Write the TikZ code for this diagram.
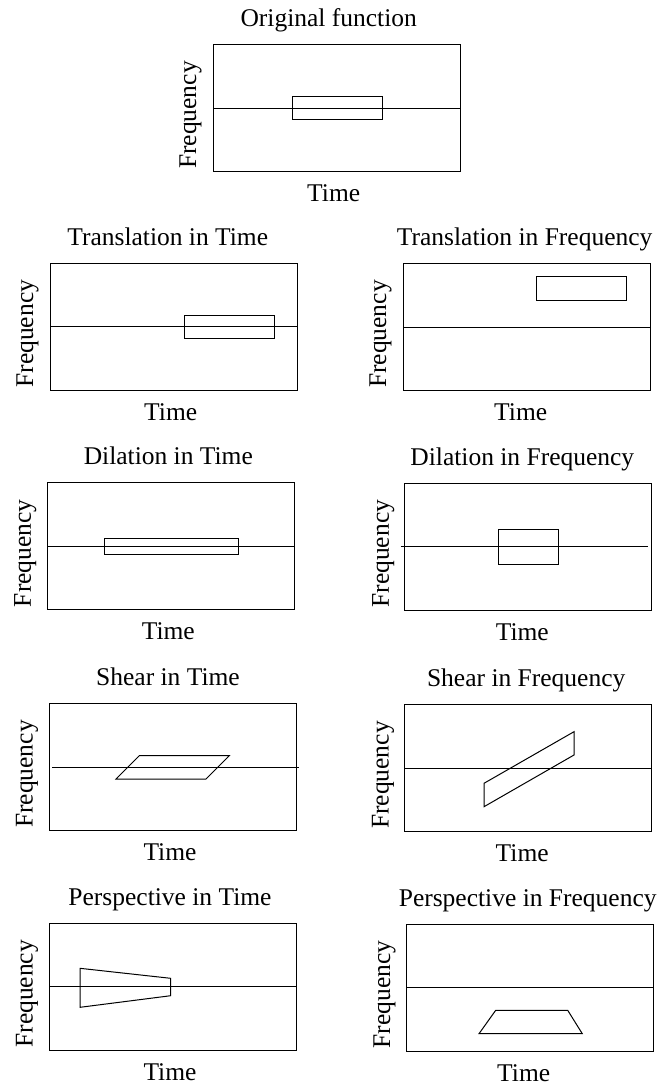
\documentclass[tikz,border=0pt]{standalone}
\usepackage{fontspec}
\setmainfont{Liberation Serif}
\usetikzlibrary{positioning}
\usetikzlibrary{calc}

\begin{document}
\begin{tikzpicture}[x=1pt, y=-1pt]

  \tikzstyle{plot}=[draw, line width=1pt, minimum width=247pt, minimum height=127pt, inner sep=0pt, outer sep=0pt]
  \tikzstyle{title}=[anchor=base, inner sep=0pt, font=\fontsize{25.5}{30}\selectfont]
  \tikzstyle{ylab}=[title, rotate=90]
  \tikzstyle{thin}=[line width=1pt]

  \useasboundingbox (0,0) rectangle (663,1088);

  % the nine time-frequency planes
  \node[plot] (orig) at (336.7,108) {};
  \node[plot] (trt) at (173.7,326.7) {};
  \node[plot] (trf) at (526.7,327) {};
  \node[plot] (dit) at (171.3,546.2) {};
  \node[plot] (dif) at (528.3,546.7) {};
  \node[plot] (sht) at (173,767) {};
  \node[plot] (shf) at (528.2,768) {};
  \node[plot] (pet) at (173,986.8) {};
  \node[plot] (pef) at (529.7,987.5) {};

  % titles
  \node[title] (origT) at ($(orig.north)+(-8,-18)$) {Original function};
  \node[title] (trtT) at ($(trt.north)+(-6,-18)$) {Translation in Time};
  \node[title] (trfT) at ($(trf.north)+(-2,-18)$) {Translation in Frequency};
  \node[title] (ditT) at ($(dit.north)+(-3,-18)$) {Dilation in Time};
  \node[title] (difT) at ($(dif.north)+(-6,-18)$) {Dilation in Frequency};
  \node[title] (shtT) at ($(sht.north)+(-5,-18)$) {Shear in Time};
  \node[title] (shfT) at ($(shf.north)+(-2,-18)$) {Shear in Frequency};
  \node[title] (petT) at ($(pet.north)+(-3,-18)$) {Perspective in Time};
  \node[title] (pefT) at ($(pef.north)+(-2,-18)$) {Perspective in Frequency};

  % axis labels
  \node[title] (origX) at ($(orig.south)+(-3,30)$) {Time};
  \node[title] (trtX) at ($(trt.south)+(-3,30)$) {Time};
  \node[title] (trfX) at ($(trf.south)+(-6,30)$) {Time};
  \node[title] (ditX) at ($(dit.south)+(-3,30)$) {Time};
  \node[title] (difX) at ($(dif.south)+(-6,30)$) {Time};
  \node[title] (shtX) at ($(sht.south)+(-3,30)$) {Time};
  \node[title] (shfX) at ($(shf.south)+(-6,30)$) {Time};
  \node[title] (petX) at ($(pet.south)+(-3,30)$) {Time};
  \node[title] (pefX) at ($(pef.south)+(-6,30)$) {Time};

  \node[ylab] (origY) at ($(orig.west)+(-17,7)$) {Frequency};
  \node[ylab] (trtY) at ($(trt.west)+(-17,7)$) {Frequency};
  \node[ylab] (trfY) at ($(trf.west)+(-17,7)$) {Frequency};
  \node[ylab] (ditY) at ($(dit.west)+(-17,7)$) {Frequency};
  \node[ylab] (difY) at ($(dif.west)+(-16,7)$) {Frequency};
  \node[ylab] (shtY) at ($(sht.west)+(-17,7)$) {Frequency};
  \node[ylab] (shfY) at ($(shf.west)+(-16,7)$) {Frequency};
  \node[ylab] (petY) at ($(pet.west)+(-17,7)$) {Frequency};
  \node[ylab] (pefY) at ($(pef.west)+(-16,7)$) {Frequency};

  % zero-frequency lines
  \draw[thin] (orig.west) -- (orig.east);
  \draw[thin] (trt.west) -- (trt.east);
  \draw[thin] (trf.west) -- (trf.east);
  \draw[thin] (dit.west) -- (dit.east);
  \draw[thin] ($(dif.west)+(-4,0)$) -- ($(dif.east)+(-4,0)$);
  \draw[thin] ($(sht.west)+(2.5,0)$) -- ($(sht.east)+(2.5,0)$);
  \draw[thin] (shf.west) -- (shf.east);
  \draw[thin] (pet.west) -- (pet.east);
  \draw[thin] (pef.west) -- (pef.east);

  % the atom in each plane
  \draw[thin] (292.3,96.3) rectangle (382.3,119.7);
  \draw[thin] (184,315.3) rectangle (274,338.3);
  \draw[thin] (536.7,276.3) rectangle (626.7,300);
  \draw[thin] (104,538.7) rectangle (238.3,554);
  \draw[thin] (498.3,529.3) rectangle (558.3,564);
  \draw[thin] (139.3,755.7) -- (229.3,755.7) -- (206,779) -- (116,779) -- cycle;
  \draw[thin] (484,783.3) -- (574,731.7) -- (574,755) -- (484,806.7) -- cycle;
  \draw[thin] (80,968.3) -- (170.7,978.3) -- (170.7,995.7) -- (80,1007.3) -- cycle;
  \draw[thin] (495.7,1010.3) -- (567.7,1010.3) -- (582.3,1033.7) -- (479,1033.7) -- cycle;

\end{tikzpicture}
\end{document}
